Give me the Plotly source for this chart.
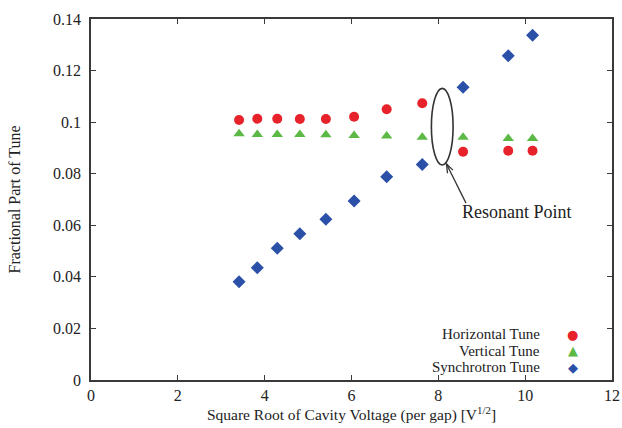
import plotly.graph_objects as go

# Data
sqrt_voltage = [3.41, 3.83, 4.29, 4.81, 5.41, 6.06, 6.81, 7.63, 8.57, 9.61, 10.17]
horizontal_tune = [0.1008, 0.1013, 0.1013, 0.1012, 0.1012, 0.1021, 0.1050, 0.1073, 0.0885, 0.0889, 0.0889]
vertical_tune = [0.0955, 0.0952, 0.0952, 0.0952, 0.0951, 0.0948, 0.0946, 0.0941, 0.0941, 0.0937, 0.0937]
synchrotron_tune = [0.0381, 0.0435, 0.0511, 0.0567, 0.0623, 0.0694, 0.0788, 0.0836, 0.1135, 0.1257, 0.1337]

series_names = ["Horizontal Tune", "Vertical Tune", "Synchrotron Tune"]
x_ticks = [0, 2, 4, 6, 8, 10, 12]
y_ticks = [0, 0.02, 0.04, 0.06, 0.08, 0.1, 0.12, 0.14]
y_tick_labels = ["0", "0.02", "0.04", "0.06", "0.08", "0.1", "0.12", "0.14"]

RED = "#e8222a"
GREEN = "#5cb946"
BLUE = "#2b50a8"
AXIS = "#3a3a3a"
TEXT = "#222222"
FONT = "Liberation Serif"

fig = go.Figure()
fig.add_trace(go.Scatter(x=sqrt_voltage, y=horizontal_tune, mode="markers", name=series_names[0],
                         marker=dict(symbol="circle", size=10, color=RED)))
fig.add_trace(go.Scatter(x=sqrt_voltage, y=vertical_tune, mode="markers", name=series_names[1],
                         marker=dict(symbol="triangle-up", size=10, color=GREEN)))
fig.add_trace(go.Scatter(x=sqrt_voltage, y=synchrotron_tune, mode="markers", name=series_names[2],
                         marker=dict(symbol="diamond", size=10, color=BLUE)))

# Ellipse marking the resonant point
fig.add_shape(type="circle", xref="x", yref="y", x0=7.84, x1=8.34, y0=0.0834, y1=0.1131,
              line=dict(color="#333333", width=1.6))
# Arrow (line + open arrowhead) pointing at the ellipse
fig.add_shape(type="path", xref="x", yref="y",
              path="M 8.637,0.0686 L 8.188,0.0838",
              line=dict(color="#333333", width=1.3))
fig.add_shape(type="path", xref="x", yref="y",
              path="M 8.211,0.0802 L 8.188,0.0838 L 8.337,0.0814",
              line=dict(color="#333333", width=1.3))
fig.add_annotation(x=9.81, y=0.0650, xref="x", yref="y", text="Resonant Point", showarrow=False,
                   font=dict(family=FONT, size=18, color=TEXT))

# Legend (text left, symbol right, as in the reference)
legend_rows = [(series_names[0], "●", RED, 0.127), (series_names[1], "▲", GREEN, 0.081),
               (series_names[2], "◆", BLUE, 0.036)]
for name, sym, col, yy in legend_rows:
    fig.add_annotation(x=0.866, y=yy, xref="paper", yref="paper", text=name, showarrow=False,
                       xanchor="right", yanchor="middle", font=dict(family=FONT, size=15, color=TEXT))
    fig.add_annotation(x=0.925, y=yy, xref="paper", yref="paper", text=sym, showarrow=False,
                       xanchor="center", yanchor="middle", font=dict(family="DejaVu Sans", size=13, color=col))

axis_common = dict(showline=True, linecolor=AXIS, linewidth=1.5, mirror="ticks", ticks="inside",
                   ticklen=5, tickcolor=AXIS, showgrid=False, zeroline=False, automargin=False,
                   ticklabeloverflow="allow",
                   tickfont=dict(family=FONT, size=16, color=TEXT))

fig.update_layout(
    width=622, height=428,
    autosize=False,
    margin=dict(l=91, r=10, t=19, b=48),
    plot_bgcolor="white", paper_bgcolor="white",
    showlegend=False,
    xaxis=dict(range=[0, 12], tickvals=x_ticks,
               title=dict(text="Square Root of Cavity Voltage (per gap) [V<sup>1/2</sup>]",
                          font=dict(family=FONT, size=15.5, color=TEXT), standoff=2),
               **axis_common),
    yaxis=dict(range=[0, 0.14], tickvals=y_ticks, ticktext=y_tick_labels, ticklabelstandoff=5,
               title=dict(text="Fractional Part of Tune",
                          font=dict(family=FONT, size=16, color=TEXT), standoff=28),
               **axis_common),
)

fig.write_html("out.html",
               config=dict(displayModeBar=False, responsive=False),
               post_script="document.body.style.margin='0';document.body.style.overflow='hidden';")
